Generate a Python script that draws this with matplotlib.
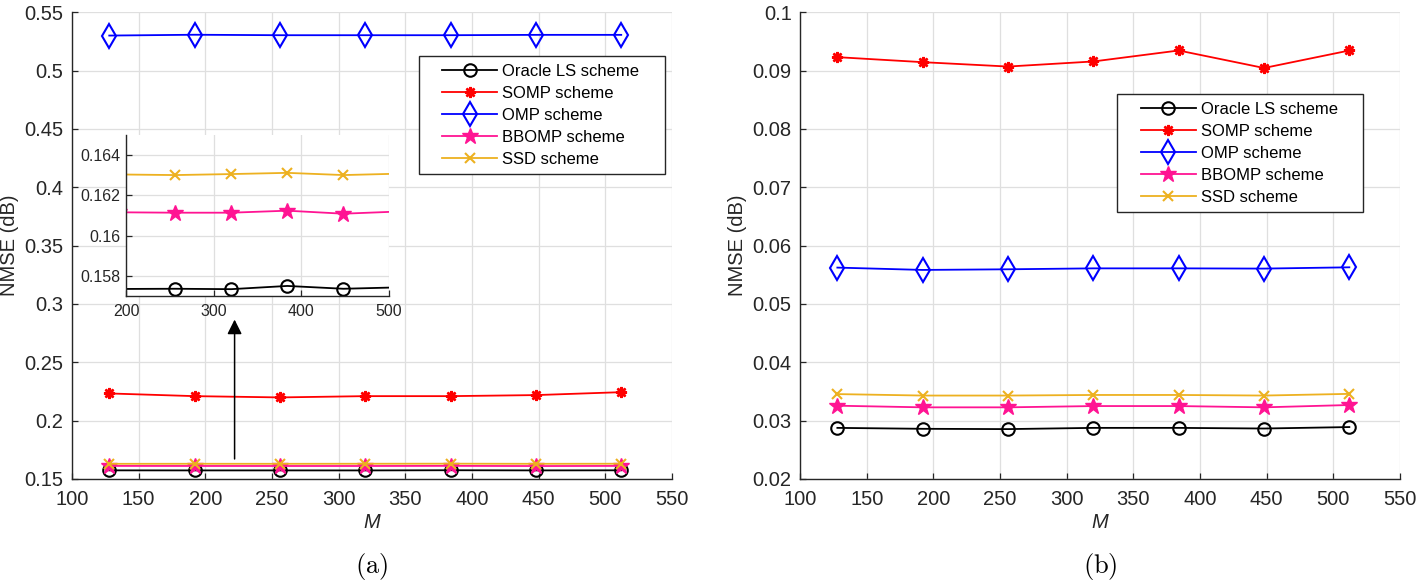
import matplotlib
matplotlib.use("Agg")
import matplotlib.pyplot as plt
from matplotlib.patches import Rectangle

plt.rcParams['font.family'] = ['Liberation Sans', 'DejaVu Sans']
plt.rcParams['mathtext.fontset'] = 'cm'

M = [128, 192, 256, 320, 384, 448, 512]
labels = ["Oracle LS scheme", "SOMP scheme", "OMP scheme", "BBOMP scheme", "SSD scheme"]

# (a)
oracle_a = [0.1574, 0.15735, 0.15736, 0.15734, 0.1575, 0.15736, 0.15743]
somp_a = [0.2233, 0.2210, 0.2199, 0.2210, 0.2210, 0.2219, 0.2244]
omp_a = [0.5300, 0.5307, 0.5303, 0.5303, 0.5303, 0.5306, 0.5306]
bbomp_a = [0.1612, 0.16116, 0.16114, 0.16114, 0.16124, 0.16109, 0.1612]
ssd_a = [0.1630, 0.16304, 0.16301, 0.16306, 0.16312, 0.16301, 0.16308]

# (b)
oracle_b = [0.02876, 0.0286, 0.02855, 0.02876, 0.02876, 0.02865, 0.0289]
somp_b = [0.0923, 0.09144, 0.09069, 0.09156, 0.09344, 0.09044, 0.09344]
omp_b = [0.05623, 0.05583, 0.05594, 0.0561, 0.0561, 0.05606, 0.05628]
bbomp_b = [0.03256, 0.03228, 0.03228, 0.0325, 0.0325, 0.03228, 0.03268]
ssd_b = [0.03455, 0.0343, 0.0343, 0.0344, 0.0344, 0.0343, 0.03459]

xticks = [100, 150, 200, 250, 300, 350, 400, 450, 500, 550]
yticks_a = [0.15, 0.2, 0.25, 0.3, 0.35, 0.4, 0.45, 0.5, 0.55]
yticks_b = [0.02, 0.03, 0.04, 0.05, 0.06, 0.07, 0.08, 0.09, 0.1]
inset_xticks = [200, 300, 400, 500]
inset_yticks = [0.158, 0.16, 0.162, 0.164]

styles = [
    dict(color='black', marker='o', markersize=9, mfc='none', mew=1.5),
    dict(color='#ff0000', marker=(8, 2, 0), markersize=8, mew=1.8),
    dict(color='#0000ff', marker='d', markersize=12.5, mfc='none', mew=1.5),
    dict(color='#ff1493', marker='*', markersize=12, mew=1.0),
    dict(color='#edb120', marker='x', markersize=7, mew=1.5),
]
tick_col = '#262626'
grid_col = '#dfdfdf'


def style_axes(ax, xt, yt, fs, xpad=8, ypad=6):
    ax.set_xticks(xt)
    ax.set_yticks(yt)
    ax.set_xticklabels(['%g' % v for v in xt])
    ax.set_yticklabels(['%g' % v for v in yt])
    ax.grid(True, color=grid_col, lw=0.9)
    ax.set_axisbelow(True)
    ax.spines['top'].set_visible(False)
    ax.spines['right'].set_visible(False)
    for s in ('left', 'bottom'):
        ax.spines[s].set_color(tick_col)
        ax.spines[s].set_linewidth(1.0)
    ax.tick_params(direction='in', length=4, colors=tick_col, labelsize=fs, width=0.9)
    ax.tick_params(axis='x', pad=xpad)
    ax.tick_params(axis='y', pad=ypad)


def draw(ax, series):
    for ys, lab, st in zip(series, labels, styles):
        ax.plot(M, ys, label=lab, lw=1.3, **st)


fig = plt.figure(figsize=(14.16, 5.82), dpi=100)
ax1 = fig.add_axes([0.0508, 0.177, 0.4237, 0.802])
ax2 = fig.add_axes([0.565, 0.177, 0.4237, 0.802])

draw(ax1, [oracle_a, somp_a, omp_a, bbomp_a, ssd_a])
ax1.set_xlim(100, 550)
ax1.set_ylim(0.15, 0.55)
style_axes(ax1, xticks, yticks_a, 14.5)

draw(ax2, [oracle_b, somp_b, omp_b, bbomp_b, ssd_b])
ax2.set_xlim(100, 550)
ax2.set_ylim(0.02, 0.1)
style_axes(ax2, xticks, yticks_b, 14.5)

for ax in (ax1, ax2):
    ax.set_ylabel("NMSE (dB)", fontsize=14.5, color=tick_col, labelpad=4)
    ax.set_xlabel("M", fontsize=14.5, style='italic', color=tick_col, labelpad=3)

leg_kw = dict(fontsize=12, frameon=False, handlelength=3.3,
              borderpad=0.45, labelspacing=0.42, handletextpad=0.3, borderaxespad=0)
l1 = ax1.legend(loc='upper right', bbox_to_anchor=(0.958, 0.906), **leg_kw)
l2 = ax2.legend(loc='upper left', bbox_to_anchor=(0.555, 0.824), **leg_kw)

# MATLAB style legend box: wider padding left and right
fig.canvas.draw()
for ax, lg in ((ax1, l1), (ax2, l2)):
    bb = lg.get_window_extent()
    inv = ax.transAxes.inverted()
    (x0, y0) = inv.transform((bb.x0 - 16, bb.y0))
    (x1, y1) = inv.transform((bb.x1 + 18, bb.y1))
    ax.add_patch(Rectangle((x0, y0), x1 - x0, y1 - y0, transform=ax.transAxes,
                           facecolor='white', edgecolor=tick_col, lw=1.0,
                           zorder=4.5, clip_on=False))

# inset zoom
axin = fig.add_axes([0.089, 0.4914, 0.1857, 0.2766])
axin.set_facecolor('white')
draw(axin, [oracle_a, somp_a, omp_a, bbomp_a, ssd_a])
axin.set_xlim(200, 500)
axin.set_ylim(0.157, 0.165)
style_axes(axin, inset_xticks, inset_yticks, 11.5, xpad=6, ypad=4)

ax1.annotate("", xy=(222, 0.289), xytext=(222, 0.1648),
             arrowprops=dict(arrowstyle='-|>', mutation_scale=22, lw=1.1, color='black'))

fig.text(0.0508 + 0.4237 / 2, 0.015, r'$\mathrm{(a)}$', ha='center', fontsize=19)
fig.text(0.565 + 0.4237 / 2, 0.015, r'$\mathrm{(b)}$', ha='center', fontsize=19)

fig.savefig("out.png", dpi=100)
